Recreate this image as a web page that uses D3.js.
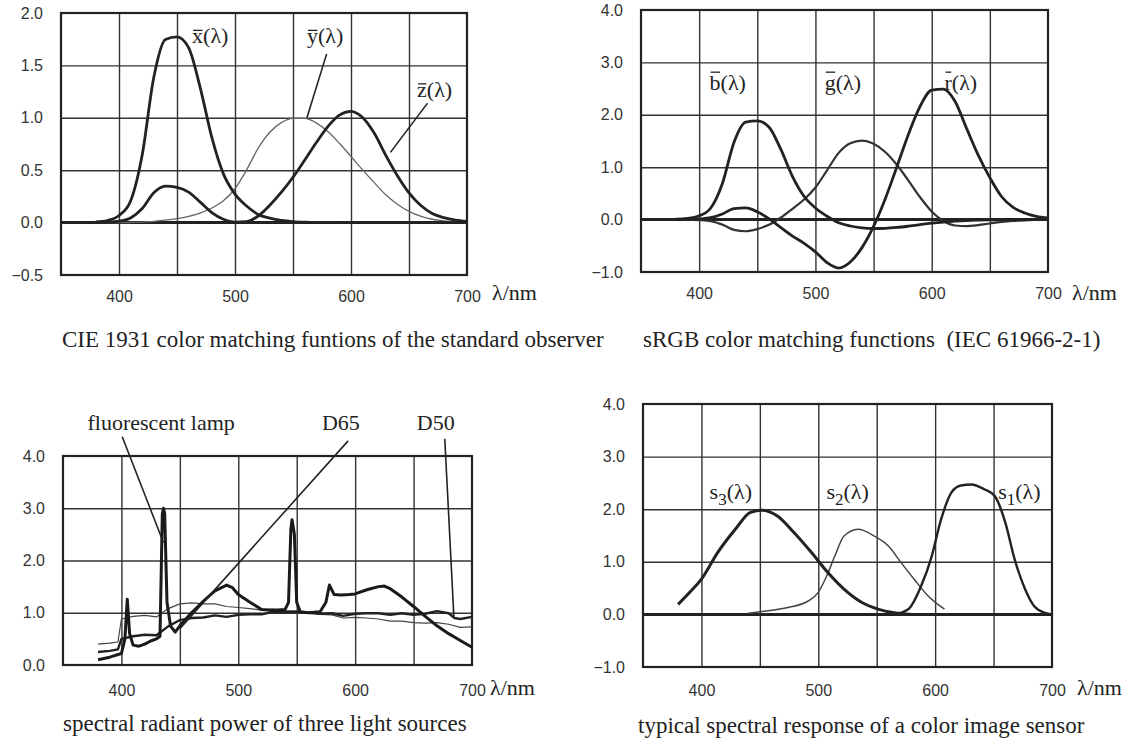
<!DOCTYPE html>
<html lang="en">
<head>
<meta charset="utf-8">
<title>Colour matching functions and spectra</title>
<script src="https://cdn.jsdelivr.net/npm/d3@7"></script>
<style>
  body { margin: 0; background: #fff; }
  svg { background: #fff; display: block; }
  .tick text { font-family: "Liberation Sans", Arial, sans-serif; font-size: 16px; fill: #333; }
  .serif { font-family: "Liberation Serif", "Times New Roman", serif; fill: #222; white-space: pre; }
</style>
</head>
<body>
<script>
// ---- data: wavelengths (nm) ----
var wl10 = [380,390,400,410,420,430,440,450,460,470,480,490,500,510,520,530,540,550,560,570,580,590,600,610,620,630,640,650,660,670,680,690,700];

// CIE 1931 colour matching functions
var cieX = [0.001,0.004,0.014,0.044,0.134,0.284,0.348,0.336,0.291,0.195,0.096,0.032,0.005,0.009,0.063,0.166,0.290,0.433,0.595,0.762,0.916,1.026,1.062,1.003,0.854,0.642,0.448,0.284,0.165,0.087,0.047,0.023,0.011];
var cieY = [0,0,0,0.001,0.004,0.012,0.023,0.038,0.060,0.091,0.139,0.208,0.323,0.503,0.710,0.862,0.954,0.995,0.995,0.952,0.870,0.757,0.631,0.503,0.381,0.265,0.175,0.107,0.061,0.032,0.017,0.008,0.004];
var cieZ = [0.007,0.020,0.068,0.207,0.646,1.386,1.747,1.772,1.669,1.288,0.813,0.465,0.272,0.158,0.078,0.042,0.020,0.009,0.004,0.002,0.002,0.001,0.001,0,0,0,0,0,0,0,0,0,0];

// sRGB colour matching functions (top-right chart)
var rBar = [0.001,0.003,0.012,0.036,0.108,0.211,0.222,0.148,0.018,-0.149,-0.309,-0.448,-0.616,-0.822,-0.925,-0.810,-0.535,-0.129,0.395,1.005,1.631,2.162,2.472,2.490,2.260,1.740,1.230,0.800,0.441,0.234,0.126,0.061,0.031];
var gBar = [-0.001,-0.003,-0.010,-0.031,-0.096,-0.196,-0.222,-0.181,-0.100,0.035,0.202,0.378,0.612,0.941,1.274,1.458,1.509,1.447,1.291,1.047,0.744,0.426,0.154,-0.028,-0.113,-0.125,-0.106,-0.074,-0.045,-0.025,-0.013,-0.007,-0.003];
var bBar = [0.007,0.021,0.072,0.221,0.689,1.478,1.861,1.884,1.768,1.353,0.836,0.451,0.222,0.065,-0.059,-0.122,-0.157,-0.170,-0.166,-0.150,-0.125,-0.096,-0.069,-0.047,-0.030,-0.018,-0.011,-0.006,-0.003,-0.002,-0.001,0,0];

// light sources (bottom-left chart)
var fluoWl = [380,390,400,403,405,407,410,415,420,425,430,433,435,436,437,439,442,446,450,460,470,480,490,495,500,510,520,530,540,543,545,546,548,550,553,560,570,575,578,582,588,595,600,610,620,625,630,640,650,660,670,680,690,700];
var fluoVal = [0.10,0.15,0.22,0.5,1.26,0.6,0.38,0.36,0.40,0.46,0.50,0.55,2.9,3.0,2.9,1.2,0.75,0.63,0.75,1.0,1.22,1.42,1.53,1.48,1.35,1.2,1.06,1.05,1.06,1.2,2.6,2.78,2.5,1.2,1.02,1.0,1.02,1.2,1.53,1.35,1.34,1.35,1.36,1.44,1.5,1.51,1.46,1.3,1.12,0.93,0.75,0.6,0.47,0.34];
var d65Wl = [380,390,397,400,410,420,430,440,450,460,470,480,490,500,510,520,530,540,550,560,570,580,590,600,610,620,630,640,650,660,670,680,690,700];
var d65Val = [0.40,0.42,0.44,0.88,0.93,0.95,0.92,1.08,1.17,1.19,1.17,1.17,1.12,1.10,1.08,1.05,1.07,1.04,1.03,1.00,0.97,0.96,0.90,0.91,0.90,0.88,0.84,0.84,0.81,0.80,0.81,0.78,0.72,0.73];
var d50Wl = [380,390,397,400,410,420,430,440,450,460,470,480,490,500,510,520,530,540,550,560,570,580,590,600,610,620,630,640,650,660,670,680,685,690,700];
var d50Val = [0.25,0.27,0.30,0.50,0.55,0.58,0.57,0.74,0.86,0.90,0.91,0.95,0.92,0.96,0.97,0.97,1.02,1.01,1.02,1.0,0.98,0.99,0.94,0.98,0.99,0.99,0.96,0.99,0.96,0.98,1.03,0.99,0.90,0.88,0.92];

// image sensor response (bottom-right chart)
var s3Wl = [380,390,400,414,429,442,452,465,479,494,508,522,537,551,565,580];
var s3Val = [0.19,0.42,0.67,1.18,1.62,1.94,1.98,1.87,1.56,1.18,0.80,0.48,0.23,0.10,0.03,0];
var s2Wl = [440,450,474,491,500,507,514,522,534,548,560,571,582,594,608];
var s2Val = [0.02,0.05,0.13,0.25,0.42,0.72,1.10,1.49,1.62,1.49,1.30,0.98,0.67,0.35,0.10];
var s1Wl = [550,565,577,588,597,605,614,622,631,642,651,660,668,677,685,694,700];
var s1Val = [0,0.01,0.10,0.54,1.10,1.80,2.32,2.45,2.47,2.38,2.25,1.75,1.05,0.48,0.15,0.03,0];

var xGrid = [400,450,500,550,600,650];
var xLabels = [400,500,600,700];

var svg = d3.select("body").append("svg").attr("width", 1135).attr("height", 746);

function zip(w, v) { return w.map(function(d, i) { return [d, v[i]]; }); }

function panel(c) {
  var x = d3.scaleLinear().domain([350, 700]).range([c.l, c.r]);
  var y = d3.scaleLinear().domain(c.yDom).range([c.b, c.t]);
  var g = svg.append("g");

  // grid
  g.append("g").attr("transform", "translate(0," + c.b + ")")
    .call(d3.axisBottom(x).tickValues(xGrid).tickSize(-(c.b - c.t)).tickFormat(""))
    .call(function(s) { s.select(".domain").remove(); s.selectAll("line").attr("stroke", "#333").attr("stroke-width", 1.4); });
  g.append("g").attr("transform", "translate(" + c.l + ",0)")
    .call(d3.axisLeft(y).tickValues(c.yTicks).tickSize(-(c.r - c.l)).tickFormat(""))
    .call(function(s) { s.select(".domain").remove(); s.selectAll("line").attr("stroke", "#333").attr("stroke-width", 1.4); });

  // tick labels
  g.append("g").attr("transform", "translate(" + c.l + ",0)")
    .call(d3.axisLeft(y).tickValues(c.yTicks.concat(c.yDom)).tickSize(0).tickPadding(18))
    .call(function(s) { s.select(".domain").remove(); s.selectAll("text").text(function(d){ return d3.format(".1f")(d).replace("-", "\u2212"); }); });
  g.append("g").attr("transform", "translate(0," + c.b + ")")
    .call(d3.axisBottom(x).tickValues(xLabels).tickSize(0).tickPadding(c.xPad))
    .call(function(s) { s.select(".domain").remove(); });
  g.append("text").attr("class", "serif").attr("x", c.r + c.unitDx).attr("y", c.b + c.unitDy)
    .style("font-size", "22px").text("\u03bb/nm");

  // frame and zero line
  g.append("rect").attr("x", c.l).attr("y", c.t).attr("width", c.r - c.l).attr("height", c.b - c.t)
    .attr("fill", "none").attr("stroke", "#222").attr("stroke-width", 2.2);
  if (c.yDom[0] < 0) {
    g.append("line").attr("x1", c.l).attr("x2", c.r).attr("y1", y(0)).attr("y2", y(0))
      .attr("stroke", "#222").attr("stroke-width", 3);
  }

  // curves
  c.series.forEach(function(s) {
    var line = d3.line().x(function(d){ return x(d[0]); }).y(function(d){ return y(d[1]); })
      .curve(s.curve || d3.curveMonotoneX);
    g.append("path").datum(zip(s.wl, s.val)).attr("d", line)
      .attr("fill", "none").attr("stroke", s.color).attr("stroke-width", s.w)
      .attr("stroke-linejoin", "round");
  });

  // leader lines
  (c.leaders || []).forEach(function(p) {
    g.append("line").attr("x1", x(p[0])).attr("y1", y(p[1])).attr("x2", x(p[2])).attr("y2", y(p[3]))
      .attr("stroke", "#222").attr("stroke-width", 1.6);
  });

  // curve labels
  (c.labels || []).forEach(function(lb) {
    var px = x(lb.nm), py = y(lb.v);
    var t = g.append("text").attr("class", "serif").attr("x", px).attr("y", py)
      .style("font-size", "22px");
    if (lb.bar) {
      t.text(lb.bar + "(\u03bb)");
      // bar over the first letter, drawn by hand so it sits close to the glyph
      var box = t.node().getExtentOfChar(0);
      g.append("line").attr("x1", box.x + 1).attr("x2", box.x + box.width - 0.5)
        .attr("y1", py - lb.barUp).attr("y2", py - lb.barUp)
        .attr("stroke", "#222").attr("stroke-width", 1.3);
    } else if (lb.sub) {
      t.append("tspan").text("s");
      t.append("tspan").attr("dy", 6).style("font-size", "17px").text(lb.sub);
      t.append("tspan").attr("dy", -6).text("(\u03bb)");
    } else {
      t.text(lb.text);
    }
  });

  // caption
  svg.append("text").attr("class", "serif").attr("x", c.capX).attr("y", c.capY)
    .style("font-size", "23px").text(c.caption);
}

panel({
  l: 61, r: 467, t: 13, b: 275, yDom: [-0.5, 2.0], yTicks: [0, 0.5, 1.0, 1.5],
  xPad: 16, unitDx: 25, unitDy: 25,
  series: [
    { wl: wl10, val: cieY, w: 1.3, color: "#666" },
    { wl: wl10, val: cieX, w: 2.8, color: "#222" },
    { wl: wl10, val: cieZ, w: 2.8, color: "#222" }
  ],
  labels: [{ nm: 463, v: 1.71, bar: "x", barUp: 13 }, { nm: 562, v: 1.71, bar: "y", barUp: 13 }, { nm: 657, v: 1.2, bar: "z", barUp: 13 }],
  leaders: [[579, 1.61, 562, 1.0], [666, 1.14, 634, 0.67]],
  caption: "CIE 1931 color matching funtions of the standard observer", capX: 62, capY: 347
});

panel({
  l: 641, r: 1048, t: 10, b: 272, yDom: [-1.0, 4.0], yTicks: [0, 1, 2, 3],
  xPad: 16, unitDx: 24, unitDy: 28,
  series: [
    { wl: wl10, val: gBar, w: 2.2, color: "#333" },
    { wl: wl10, val: bBar, w: 2.8, color: "#222" },
    { wl: wl10, val: rBar, w: 2.8, color: "#222" }
  ],
  labels: [{ nm: 409, v: 2.47, bar: "b", barUp: 18 }, { nm: 508, v: 2.47, bar: "g", barUp: 18 }, { nm: 611, v: 2.47, bar: "r", barUp: 18 }],
  caption: "sRGB color matching functions  (IEC 61966-2-1)", capX: 643, capY: 347
});

panel({
  l: 63, r: 472, t: 456, b: 665, yDom: [0, 4.0], yTicks: [1, 2, 3],
  xPad: 20, unitDx: 18, unitDy: 30,
  series: [
    { wl: d65Wl, val: d65Val, w: 1.2, color: "#444", curve: d3.curveLinear },
    { wl: d50Wl, val: d50Val, w: 2.4, color: "#222", curve: d3.curveLinear },
    { wl: fluoWl, val: fluoVal, w: 3, color: "#1a1a1a", curve: d3.curveLinear }
  ],
  labels: [{ nm: 371, v: 4.5, text: "fluorescent lamp" }, { nm: 571.6, v: 4.5, text: "D65" }, { nm: 652.8, v: 4.5, text: "D50" }],
  leaders: [[400.7, 4.37, 436, 2.34], [594, 4.29, 450.6, 0.71], [676.7, 4.33, 684.5, 0.92]],
  caption: "spectral radiant power of three light sources", capX: 63, capY: 731
});

panel({
  l: 643, r: 1052, t: 404, b: 667, yDom: [-1.0, 4.0], yTicks: [0, 1, 2, 3],
  xPad: 18, unitDx: 25, unitDy: 28,
  series: [
    { wl: s2Wl, val: s2Val, w: 1.5, color: "#444" },
    { wl: s3Wl, val: s3Val, w: 3, color: "#222" },
    { wl: s1Wl, val: s1Val, w: 2.4, color: "#222" }
  ],
  labels: [{ nm: 407, v: 2.19, sub: "3" }, { nm: 507, v: 2.19, sub: "2" }, { nm: 654, v: 2.19, sub: "1" }],
  caption: "typical spectral response of a color image sensor", capX: 638, capY: 733
});
</script>
</body>
</html>
